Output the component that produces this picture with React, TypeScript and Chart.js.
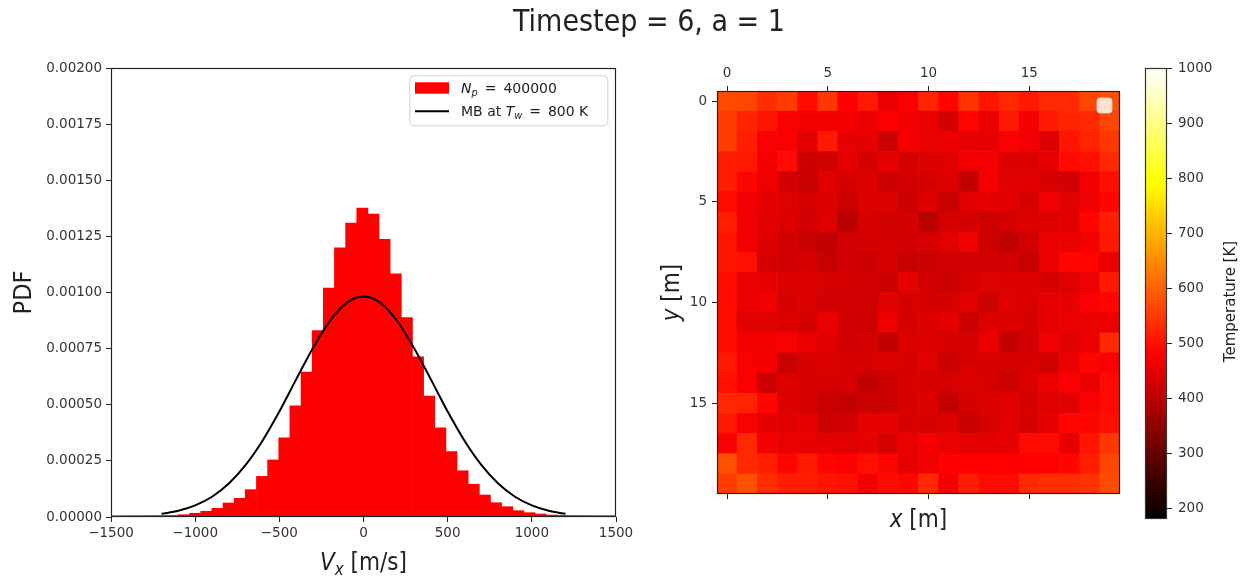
import React, { useEffect, useRef } from 'react';
import { Chart, registerables } from 'chart.js';

Chart.register(...registerables);

// ---------------- data ----------------
const BIN_CENTERS = [
  -1529.6, -1463.4, -1397.2, -1331.0, -1264.8, -1198.6, -1132.4, -1066.2, -1000.0, -933.8,
  -867.6, -801.4, -735.2, -669.0, -602.8, -536.6, -470.4, -404.2, -338.0, -271.8,
  -205.6, -139.4, -73.2, -7.0, 59.2, 125.4, 191.6, 257.8, 324.0, 390.2,
  456.4, 522.6, 588.8, 655.0, 721.2, 787.4, 853.6, 919.8, 986.0, 1052.2,
  1118.4, 1184.6, 1250.8, 1317.0, 1383.2, 1449.4, 1515.6,
];
const PDF_VALUES = [
  0.0000055, 0.0000055, 0.0000058, 0.0000060, 0.0000062, 0.0000065, 0.0000070, 0.0000102, 0.0000165, 0.0000254,
  0.0000388, 0.0000624, 0.0000833, 0.000122, 0.000181, 0.000254, 0.000353, 0.000495, 0.000645, 0.000830,
  0.001020, 0.001199, 0.001309, 0.001376, 0.001349, 0.001237, 0.001083, 0.000888, 0.000713, 0.000539,
  0.000397, 0.000291, 0.000206, 0.000146, 0.0000980, 0.0000637, 0.0000459, 0.0000281, 0.0000192, 0.0000134,
  0.0000086, 0.0000070, 0.0000065, 0.0000062, 0.0000060, 0.0000058, 0.0000055,
];
const MB_VX = [-1200, -1100, -1000, -900, -800, -700, -600, -500, -400, -300, -200, -100, 0,
  100, 200, 300, 400, 500, 600, 700, 800, 900, 1000, 1100, 1200];
const MB_PDF = [0.0000141, 0.0000278, 0.0000516, 0.0000903, 0.000149, 0.000232, 0.000340, 0.000470, 0.000613,
  0.000753, 0.000873, 0.000954, 0.000982, 0.000954, 0.000873, 0.000753, 0.000613, 0.000470, 0.000340,
  0.000232, 0.000149, 0.0000903, 0.0000516, 0.0000278, 0.0000141];
const VX_TICKS = [-1500, -1000, -500, 0, 500, 1000, 1500];
const PDF_TICKS = [0, 0.00025, 0.0005, 0.00075, 0.001, 0.00125, 0.0015, 0.00175, 0.002];

const GRID_X = [0, 1, 2, 3, 4, 5, 6, 7, 8, 9, 10, 11, 12, 13, 14, 15, 16, 17, 18, 19];
const GRID_Y = [0, 1, 2, 3, 4, 5, 6, 7, 8, 9, 10, 11, 12, 13, 14, 15, 16, 17, 18, 19];
const TEMPERATURE_K = [
  [571, 565, 534, 553, 492, 547, 479, 510, 456, 473, 522, 485, 541, 504, 528, 510, 528, 528, 565, 577],
  [553, 522, 504, 473, 468, 468, 468, 456, 479, 468, 456, 426, 485, 456, 510, 468, 510, 522, 528, 565],
  [553, 516, 473, 473, 444, 510, 450, 450, 421, 468, 456, 456, 450, 450, 473, 462, 438, 504, 522, 547],
  [516, 510, 468, 492, 421, 426, 450, 432, 450, 432, 438, 444, 462, 468, 438, 438, 450, 492, 498, 528],
  [516, 485, 462, 426, 415, 444, 432, 438, 421, 426, 432, 438, 409, 468, 444, 444, 432, 426, 468, 498],
  [492, 462, 450, 444, 432, 438, 421, 438, 438, 421, 438, 415, 444, 450, 444, 432, 462, 444, 462, 485],
  [516, 462, 444, 438, 426, 444, 397, 432, 426, 432, 397, 432, 432, 421, 432, 438, 438, 444, 485, 516],
  [504, 462, 438, 426, 415, 409, 426, 432, 432, 426, 432, 444, 462, 421, 403, 426, 456, 456, 468, 510],
  [504, 498, 432, 426, 432, 415, 426, 421, 432, 415, 421, 426, 426, 426, 426, 415, 456, 485, 485, 456],
  [492, 456, 450, 438, 438, 432, 432, 426, 421, 450, 426, 421, 432, 444, 438, 438, 432, 444, 462, 510],
  [492, 456, 462, 432, 438, 426, 426, 426, 444, 432, 432, 432, 444, 421, 444, 438, 450, 450, 473, 485],
  [492, 444, 444, 438, 432, 456, 426, 421, 462, 432, 438, 450, 421, 438, 438, 432, 450, 456, 456, 456],
  [492, 468, 468, 473, 456, 444, 426, 432, 409, 438, 438, 432, 432, 456, 409, 426, 462, 444, 456, 528],
  [510, 473, 468, 415, 432, 438, 432, 432, 438, 432, 444, 421, 432, 432, 432, 432, 426, 456, 485, 473],
  [498, 473, 421, 438, 432, 432, 432, 409, 421, 432, 432, 432, 438, 432, 421, 438, 456, 473, 456, 492],
  [528, 522, 485, 438, 432, 415, 409, 421, 421, 432, 438, 409, 432, 438, 444, 432, 444, 444, 473, 492],
  [510, 473, 450, 444, 450, 421, 426, 450, 450, 432, 432, 438, 415, 432, 444, 432, 450, 485, 485, 498],
  [473, 528, 468, 456, 450, 450, 444, 450, 432, 456, 468, 456, 450, 450, 450, 492, 492, 450, 504, 547],
  [577, 528, 516, 485, 510, 485, 479, 498, 485, 450, 462, 479, 479, 479, 479, 479, 479, 485, 516, 565],
  [553, 577, 534, 516, 516, 504, 498, 468, 492, 485, 528, 468, 516, 492, 492, 528, 534, 534, 541, 571],
];
const MAP_TICKS = [0, 5, 10, 15];
const CBAR_TICKS = [200, 300, 400, 500, 600, 700, 800, 900, 1000];
const T_MIN = 180;
const T_MAX = 1000;

// ---------------- style ----------------
const TICK_FAMILY = "'DejaVu Sans', sans-serif";
const LABEL_FAMILY = "'DejaVu Sans Condensed', 'DejaVu Sans', sans-serif";
const INK = '#222222';
const TICK_INK = '#333333';
const TICK_FONT = { family: TICK_FAMILY, size: 13.5 };

type Seg = { t: string; it?: boolean; sub?: boolean };

function drawRich(ctx: CanvasRenderingContext2D, segs: Seg[], x: number, y: number, size: number,
  family: string, color: string, rot = 0, align: 'center' | 'left' = 'center') {
  ctx.save();
  ctx.translate(x, y);
  if (rot) ctx.rotate(rot);
  ctx.fillStyle = color;
  ctx.textBaseline = 'alphabetic';
  ctx.textAlign = 'left';
  const font = (s: Seg) => `${s.it ? 'italic ' : ''}${s.sub ? size * 0.7 : size}px ${family}`;
  const widths = segs.map((s) => { ctx.font = font(s); return ctx.measureText(s.t).width; });
  const total = widths.reduce((a, b) => a + b, 0);
  let cx = align === 'center' ? -total / 2 : 0;
  segs.forEach((s, i) => {
    ctx.font = font(s);
    ctx.fillText(s.t, cx, s.sub ? size * 0.2 : 0);
    cx += widths[i];
  });
  ctx.restore();
}

function hotColor(t: number) {
  const c = (v: number) => Math.max(0, Math.min(1, v));
  const r = c(t / 0.365079);
  const g = c((t - 0.365079) / 0.380953);
  const b = c((t - 0.746032) / 0.253968);
  return `rgb(${Math.round(r * 255)},${Math.round(g * 255)},${Math.round(b * 255)})`;
}
const HOT_STOPS: [number, string][] = [
  [0, 'rgb(0,0,0)'], [0.365079, 'rgb(255,0,0)'], [0.746032, 'rgb(255,255,0)'], [1, 'rgb(255,255,255)'],
];

const framePlugin = (color: string) => ({
  id: 'frame',
  afterDatasetsDraw(chart: any) {
    const { ctx, chartArea: a } = chart;
    ctx.save();
    ctx.strokeStyle = color;
    ctx.lineWidth = 1.2;
    const l = Math.round(a.left) + 0.5, t = Math.round(a.top) + 0.5;
    const r = Math.round(a.right) - 0.5, b = Math.round(a.bottom) - 0.5;
    ctx.strokeRect(l, t, r - l, b - t);
    ctx.restore();
  },
});

const tickGrid = { display: true, drawOnChartArea: false, drawTicks: true, tickLength: 5, color: INK, lineWidth: 1 };
const fmtSigned = (v: number) => (v < 0 ? '\u2212' + Math.abs(v) : String(v));

const LEGEND_HIST: Seg[] = [{ t: 'N', it: true }, { t: 'p', it: true, sub: true }, { t: '\u2002=\u2002400000' }];
const LEGEND_MB: Seg[] = [{ t: 'MB at ' }, { t: 'T', it: true }, { t: 'w', it: true, sub: true }, { t: '\u2002=\u2002800 K' }];

export default function App() {
  const leftRef = useRef<HTMLCanvasElement>(null);
  const mapRef = useRef<HTMLCanvasElement>(null);
  const barRef = useRef<HTMLCanvasElement>(null);

  useEffect(() => {
    const charts: Chart[] = [];

    // ---------- histogram + MB curve ----------
    const histLegend = {
      id: 'histLegend',
      afterDraw(chart: any) {
        const { ctx, chartArea: a } = chart;
        const w = 198, h = 50;
        const x = a.right - 8.7 - w, y = a.top + 7.3;
        ctx.save();
        ctx.beginPath();
        ctx.roundRect(x + 0.5, y + 0.5, w, h, 4);
        ctx.fillStyle = 'rgba(255,255,255,0.8)';
        ctx.fill();
        ctx.strokeStyle = 'rgba(204,204,204,0.9)';
        ctx.lineWidth = 1;
        ctx.stroke();
        const hist = chart.data.datasets[1];
        const mb = chart.data.datasets[0];
        ctx.fillStyle = hist.backgroundColor;
        ctx.fillRect(x + 5.7, y + 7, 34, 11.4);
        ctx.strokeStyle = mb.borderColor;
        ctx.lineWidth = 2;
        ctx.beginPath();
        ctx.moveTo(x + 5.7, y + 36);
        ctx.lineTo(x + 39.7, y + 36);
        ctx.stroke();
        ctx.restore();
        drawRich(ctx, LEGEND_HIST, x + 51.7, y + 18, 14, TICK_FAMILY, INK, 0, 'left');
        drawRich(ctx, LEGEND_MB, x + 51.7, y + 41, 14, TICK_FAMILY, INK, 0, 'left');
      },
    };
    const histTitles = {
      id: 'histTitles',
      afterDraw(chart: any) {
        const { ctx, chartArea: a } = chart;
        drawRich(ctx, [{ t: 'Timestep = 6, a = 1' }], 649, 31, 30, LABEL_FAMILY, INK);
        drawRich(ctx, [{ t: 'V', it: true }, { t: 'x', it: true, sub: true }, { t: ' [m/s]' }],
          (a.left + a.right) / 2, a.bottom + 53, 24, LABEL_FAMILY, INK);
        drawRich(ctx, [{ t: 'PDF' }], 31, (a.top + a.bottom) / 2, 25, LABEL_FAMILY, INK, -Math.PI / 2);
      },
    };
    charts.push(new Chart(leftRef.current!, {
      type: 'bar',
      data: {
        datasets: [
          {
            type: 'line', label: 'MB at T_w = 800 K',
            data: MB_VX.map((v, i) => ({ x: v, y: MB_PDF[i] })),
            borderColor: '#000000', borderWidth: 2, pointRadius: 0, tension: 0.4,
            cubicInterpolationMode: 'monotone', order: 0,
          } as any,
          {
            type: 'bar', label: 'N_p = 400000',
            data: BIN_CENTERS.map((c, i) => ({ x: c, y: PDF_VALUES[i] })),
            backgroundColor: '#ff0000', borderWidth: 0, barPercentage: 1, categoryPercentage: 1, order: 1,
          } as any,
        ],
      },
      options: {
        animation: false, responsive: false, maintainAspectRatio: false,
        layout: { padding: { left: 0, right: 632, top: 68, bottom: 0 } },
        plugins: { legend: { display: false }, tooltip: { enabled: false }, title: { display: false } },
        scales: {
          x: {
            type: 'linear', min: -1500, max: 1500, offset: false,
            afterBuildTicks: (s: any) => { s.ticks = VX_TICKS.map((v) => ({ value: v })); },
            afterFit: (s: any) => { s.height = 61; },
            ticks: { font: TICK_FONT, color: TICK_INK, padding: 3, maxRotation: 0, callback: (v: any) => fmtSigned(Number(v)) },
            grid: { ...tickGrid, offset: false }, border: { display: false },
          },
          y: {
            type: 'linear', min: 0, max: 0.002,
            afterBuildTicks: (s: any) => { s.ticks = PDF_TICKS.map((v) => ({ value: v })); },
            afterFit: (s: any) => { s.width = 111; },
            ticks: { font: TICK_FONT, color: TICK_INK, padding: 4, callback: (v: any) => Number(v).toFixed(5) },
            grid: tickGrid, border: { display: false },
          },
        },
      } as any,
      plugins: [framePlugin(INK), histLegend, histTitles],
    }));

    // ---------- temperature map ----------
    const cells: { x: number; y: [number, number]; t: number }[] = [];
    TEMPERATURE_K.forEach((row, j) => row.forEach((t, i) => {
      cells.push({ x: GRID_X[i], y: [GRID_Y[j] - 0.5, GRID_Y[j] + 0.5], t });
    }));
    const mapExtras = {
      id: 'mapExtras',
      afterDatasetsDraw(chart: any) {
        const { ctx, chartArea: a } = chart;
        const w = 15, h = 15;
        ctx.save();
        ctx.beginPath();
        ctx.roundRect(a.right - 8 - w, a.top + 7, w, h, 3);
        ctx.fillStyle = 'rgba(255,255,255,0.82)';
        ctx.fill();
        ctx.strokeStyle = 'rgba(220,220,220,0.8)';
        ctx.lineWidth = 1;
        ctx.stroke();
        ctx.restore();
      },
      afterDraw(chart: any) {
        const { ctx, chartArea: a } = chart;
        drawRich(ctx, [{ t: 'x', it: true }, { t: ' [m]' }], (a.left + a.right) / 2, a.bottom + 33, 24, LABEL_FAMILY, INK);
        drawRich(ctx, [{ t: 'y', it: true }, { t: ' [m]' }], a.left - 38, (a.top + a.bottom) / 2, 24, LABEL_FAMILY, INK, -Math.PI / 2);
      },
    };
    const mapTicks = (s: any) => { s.ticks = MAP_TICKS.map((v) => ({ value: v })); };
    charts.push(new Chart(mapRef.current!, {
      type: 'bar',
      data: {
        datasets: [{
          data: cells as any,
          backgroundColor: cells.map((c) => hotColor((c.t - T_MIN) / (T_MAX - T_MIN))),
          borderWidth: 0, barPercentage: 1, categoryPercentage: 1, xAxisID: 'x', yAxisID: 'y',
        } as any],
      },
      options: {
        animation: false, responsive: false, maintainAspectRatio: false,
        layout: { padding: { left: 0, right: 30, top: 0, bottom: 0 } },
        plugins: { legend: { display: false }, tooltip: { enabled: false } },
        scales: {
          x: {
            type: 'linear', position: 'top', min: -0.5, max: 19.5, offset: false,
            afterBuildTicks: mapTicks, afterFit: (s: any) => { s.height = 91; },
            ticks: { font: TICK_FONT, color: TICK_INK, padding: 4, maxRotation: 0 },
            grid: { ...tickGrid, offset: false }, border: { display: false },
          },
          x2: {
            type: 'linear', position: 'bottom', min: -0.5, max: 19.5, offset: false,
            afterBuildTicks: mapTicks, afterFit: (s: any) => { s.height = 84; },
            ticks: { font: TICK_FONT, color: TICK_INK, padding: 4, maxRotation: 0, callback: () => '' },
            grid: { ...tickGrid, offset: false }, border: { display: false },
          },
          y: {
            type: 'linear', position: 'left', reverse: true, min: -0.5, max: 19.5,
            afterBuildTicks: mapTicks, afterFit: (s: any) => { s.width = 67; },
            ticks: { font: TICK_FONT, color: TICK_INK, padding: 5 },
            grid: tickGrid, border: { display: false },
          },
        },
      } as any,
      plugins: [framePlugin(INK), mapExtras],
    }));

    // ---------- colour bar ----------
    const cbarTitle = {
      id: 'cbarTitle',
      afterDraw(chart: any) {
        const { ctx, chartArea: a } = chart;
        drawRich(ctx, [{ t: 'Temperature [K]' }], a.right + 68, (a.top + a.bottom) / 2 + 8, 15, TICK_FAMILY, INK, -Math.PI / 2);
      },
    };
    charts.push(new Chart(barRef.current!, {
      type: 'bar',
      data: {
        labels: ['T'],
        datasets: [{
          data: [[T_MIN, T_MAX]] as any,
          backgroundColor: (c: any) => {
            const ch = c.chart;
            if (!ch.chartArea) return '#ff0000';
            const ys = ch.scales.y;
            const g = ch.ctx.createLinearGradient(0, ys.getPixelForValue(T_MIN), 0, ys.getPixelForValue(T_MAX));
            HOT_STOPS.forEach(([o, col]) => g.addColorStop(o, col));
            return g;
          },
          borderWidth: 0, barPercentage: 1, categoryPercentage: 1,
        } as any],
      },
      options: {
        animation: false, responsive: false, maintainAspectRatio: false,
        layout: { padding: { left: 15, right: 0, top: 68, bottom: 59 } },
        plugins: { legend: { display: false }, tooltip: { enabled: false } },
        scales: {
          x: { display: false },
          y: {
            type: 'linear', position: 'right', min: T_MIN, max: T_MAX,
            afterBuildTicks: (s: any) => { s.ticks = CBAR_TICKS.map((v) => ({ value: v })); },
            afterFit: (s: any) => { s.width = 81; },
            ticks: { font: TICK_FONT, color: TICK_INK, padding: 6, callback: (v: any) => String(v) },
            grid: tickGrid, border: { display: false },
          },
        },
      } as any,
      plugins: [framePlugin('#333333'), cbarTitle],
    }));

    return () => { charts.forEach((c) => c.destroy()); };
  }, []);

  const abs = (left: number, width: number): React.CSSProperties => ({
    position: 'absolute', left, top: 0, width, height: 578,
  });
  return (
    <div style={{ position: 'absolute', left: 0, top: 0, width: 1248, height: 578, background: '#ffffff', overflow: 'hidden' }}>
      <canvas ref={leftRef} width={1248} height={578} style={abs(0, 1248)} />
      <canvas ref={mapRef} width={500} height={578} style={abs(650, 500)} />
      <canvas ref={barRef} width={118} height={578} style={abs(1130, 118)} />
    </div>
  );
}
